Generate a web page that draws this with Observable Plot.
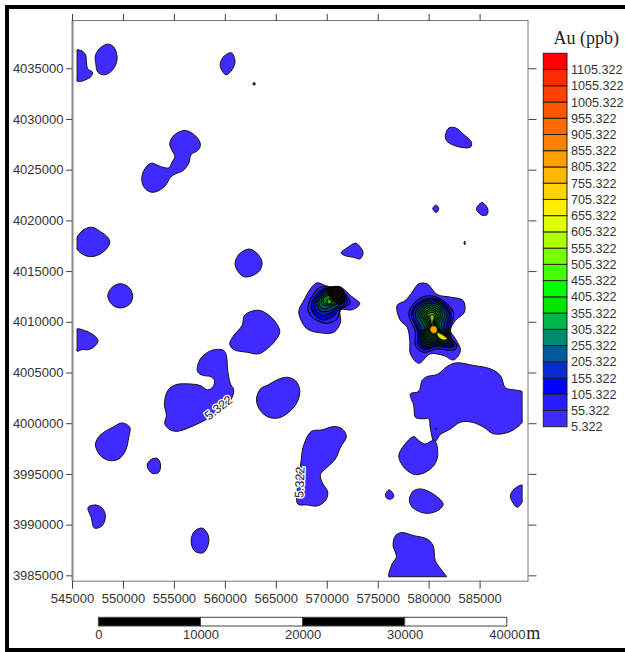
<!DOCTYPE html>
<html>
<head>
<meta charset="utf-8">
<script src="https://cdn.jsdelivr.net/npm/d3@7"></script>
<script src="https://cdn.jsdelivr.net/npm/@observablehq/plot@0.6"></script>
<style>
html,body{margin:0;padding:0;background:#fff;}
#page{position:relative;width:625px;height:652px;overflow:hidden;}
#page svg{position:absolute;overflow:visible;background:transparent;}
#bt{position:absolute;left:5px;top:5px;right:0;height:3.5px;background:#000;}
#bl{position:absolute;left:5px;top:5px;bottom:0;width:3.5px;background:#000;}
#bb{position:absolute;left:5px;right:0;bottom:0;height:4px;background:#000;}
</style>
</head>
<body>
<div id="page"><div id="bt"></div><div id="bl"></div><div id="bb"></div></div>
<script>
// Map coordinates: [easting km, northing km minus 4000]
const xTicks = [545000,550000,555000,560000,565000,570000,575000,580000,585000];
const yTicks = [3985000,3990000,3995000,4000000,4005000,4010000,4015000,4020000,4025000,4030000,4035000];
const levels = [5.322,55.322,105.322,155.322,205.322,255.322,305.322,355.322,405.322,455.322,505.322,555.322,605.322,655.322,705.322,755.322,805.322,855.322,905.322,955.322,1005.322,1055.322,1105.322];
const bandColors = ["#3f2bff","#2a1cff","#0000ff","#0a2bd0","#005a9c","#008a70","#00b84a","#00e800","#00ff00","#44ff00","#78ff00","#b0ff00","#e0ff00","#ffee00","#ffd400","#ffb800","#ffa000","#ff8000","#ff6a00","#ff5500","#ff4000","#ff2a00","#ff0000"];
const ringColors = ["#3f2bff","#2a1cff","#0000d8","#0a20b0","#004a80","#006a58","#007a30","#008a10","#009a00","#20a800","#50b000","#90c000"];
const scaleTicks = [0,10000,20000,30000,40000];
const scaleFills = ["#000","#fff","#000","#fff"];

const blobs = [
[[545.45,36.87],[545.94,36.74],[546.27,36.41],[546.37,35.65],[546.5,34.98],[546.96,34.67],[546.83,34.24],[546.27,33.91],[545.78,33.75],[545.45,33.78],[545.45,34.1],[545.45,35.3],[545.45,36.6]],
[[547.25,36.31],[547.74,37.07],[548.46,37.43],[549.05,37.14],[549.38,36.15],[549.21,35.33],[548.72,34.67],[548.07,34.4],[547.48,34.67],[547.29,35.49]],
[[559.5,35.49],[559.84,36.21],[560.59,36.58],[560.95,35.75],[560.66,34.9],[560.07,34.4],[559.58,35.0]],
[[562.7,33.5],[562.82,33.65],[562.95,33.5],[562.82,33.38]],
[[554.54,27.59],[554.94,28.42],[555.92,28.91],[556.74,28.65],[557.39,27.99],[557.55,27.43],[557.29,26.94],[556.64,26.54],[556.41,25.69],[555.85,24.96],[555.1,24.63],[554.61,24.3],[554.12,23.48],[553.47,22.99],[552.81,22.82],[552.16,23.15],[551.8,23.97],[552,24.96],[552.71,25.69],[553.63,25.36],[554.45,25.23],[554.77,25.8],[555.04,26.34],[554.77,26.94]],
[[545.45,18.38],[546.11,19.14],[546.93,19.37],[547.74,18.94],[548.46,18.38],[548.66,17.89],[548.33,17.23],[547.58,16.67],[546.76,16.47],[545.94,16.74],[545.45,17.23],[545.45,17.5],[545.45,18.1]],
[[560.95,15.82],[561.31,16.67],[562.29,17.23],[563.11,16.8],[563.6,15.92],[563.37,15.09],[562.62,14.6],[561.8,14.5],[561.15,15.16]],
[[548.46,12.62],[548.89,13.45],[549.7,13.81],[550.52,13.45],[550.91,12.62],[550.62,11.8],[549.7,11.41],[548.89,11.74]],
[[545.45,9.35],[546.44,9.09],[547.25,8.6],[547.51,8.2],[547.25,7.71],[546.6,7.31],[545.94,7.31],[545.45,7.15],[545.45,7.5],[545.45,8.3],[545.45,9.1]],
[[560.43,7.87],[560.82,8.7],[561.64,9.68],[561.87,10.67],[562.62,11.1],[563.44,11.16],[564.42,10.57],[565.14,9.68],[565.34,9.03],[564.91,8.2],[564.09,7.38],[563.28,6.89],[562.13,7.05],[560.82,7.31]],
[[557.23,5.41],[557.55,6.39],[558.27,7.05],[559.02,7.31],[559.84,7.22],[560.1,6.72],[560.23,5.24],[560.5,3.93],[560.82,3.33],[560.5,2.28],[559.19,0.96],[558.04,0.37],[556.9,-0.19],[555.26,-0.75],[554.45,-0.52],[554.05,0.04],[554.22,0.8],[554.02,1.95],[554.35,3.27],[555.1,3.83],[556.25,3.93],[557.55,3.76],[558.27,3.33],[558.8,3.66],[558.93,4.25],[558.53,4.65],[557.88,4.75],[557.39,4.98]],
[[563.05,2.35],[563.44,3.43],[564.26,3.86],[565.07,4.32],[566.06,4.58],[566.87,4.25],[567.3,3.33],[567.04,2.12],[566.22,1.13],[565.24,0.57],[564.26,0.64],[563.44,1.29]],
[[547.25,-1.98],[547.74,-1.11],[549.05,-0.29],[549.87,0.08],[550.62,-0.35],[550.52,-1.34],[550.2,-2.66],[549.54,-3.48],[548.72,-3.64],[547.91,-3.31],[547.42,-2.66]],
[[552.32,-4.14],[552.65,-3.58],[553.3,-3.41],[553.63,-3.97],[553.47,-4.79],[552.81,-4.89]],
[[546.53,-8.25],[547.25,-8.02],[547.91,-8.31],[548.23,-9.07],[547.91,-10.06],[547.15,-10.29],[546.83,-9.24]],
[[556.64,-11.54],[556.96,-10.62],[557.72,-10.29],[558.27,-10.88],[558.37,-11.7],[558.04,-12.53],[557.72,-12.76],[556.96,-12.53]],
[[568.42,-0.77],[569.5,-0.61],[570.64,-0.28],[571.46,-0.51],[571.88,-1.27],[571.3,-2.32],[570.8,-3.47],[569.99,-4.3],[569.33,-5.02],[569.5,-5.78],[570.05,-6.76],[569.82,-7.59],[569,-8.11],[568.03,-8.01],[567.11,-7.91],[567.11,-5.94],[567.44,-3.64],[567.63,-2.32]],
[[578.16,2.94],[578.98,3.17],[579.31,4.26],[579.8,4.65],[580.78,4.85],[581.76,5.64],[582.67,6],[584.38,5.74],[586.01,5.41],[586.99,4.75],[587.48,3.54],[588.3,3.34],[589.12,3.17],[589.12,2.9],[589.12,1.63],[589.12,0.4],[589.12,0.15],[587.97,-0.77],[586.34,-1],[585.36,-0.35],[584.21,0.15],[583.07,0.15],[582.09,-0.51],[581.11,-1.07],[580.52,-1.83],[580.12,-0.51],[579.96,0.48],[579.31,0.48],[578.65,0.64],[578.49,1.79]],
[[577.02,-3.14],[577.51,-2.16],[578.49,-1.27],[578.98,-1.66],[579.57,-1.99],[580.52,-1.66],[580.84,-3.14],[580.45,-4.13],[579.63,-4.79],[578.65,-5.02],[577.84,-4.62],[577.25,-3.9]],
[[575.71,-6.99],[576.04,-6.53],[576.3,-6.66],[576.53,-7.19],[576.2,-7.45],[575.81,-7.32]],
[[578.06,-7.42],[578.42,-6.66],[579.14,-6.43],[580.29,-6.86],[581.37,-7.91],[580.94,-8.51],[579.8,-8.84],[578.82,-8.57],[578.23,-8.08]],
[[587.97,-7.09],[588.36,-6.43],[589.12,-6.04],[589.12,-6.3],[589.12,-7.5],[589.12,-7.75],[588.63,-8.24],[588.14,-7.65]],
[[576.04,-15.09],[576.36,-13.84],[576.79,-13.11],[576.46,-12.03],[576.69,-11.04],[577.34,-10.74],[578.49,-11.04],[579.8,-11.37],[580.39,-12.03],[580.61,-13.51],[581.27,-14.49],[581.69,-15.09],[581.4,-15.09],[578.8,-15.09],[576.3,-15.09]],
[[581.59,28.42],[581.92,29.15],[582.58,29.18],[583.39,28.52],[584.15,27.76],[584.05,27.27],[583.07,27.27],[582.09,27.6],[581.69,27.93]],
[[580.35,21.22],[580.68,21.55],[580.94,21.25],[580.71,20.82]],
[[584.64,21.18],[585.19,21.81],[585.75,21.18],[585.68,20.62],[585.19,20.56]],
[[583.42,17.83],[583.49,18.0],[583.56,17.83],[583.49,17.65]],
[[571.36,16.84],[571.95,17.34],[572.77,17.8],[573.26,17.4],[573.52,16.84],[573.19,16.25],[572.6,16.41],[571.95,16.51]],
[[567.21,11.16],[567.7,12.15],[568.35,13.3],[569,13.89],[569.82,13.63],[570.48,13.47],[571.3,13.47],[572.28,12.64],[573.19,11.82],[572.44,11.23],[571.3,11.23],[571.3,10.01],[570.64,9.02],[569.33,8.96],[568.03,9.35],[567.37,10.34]],
[[576.85,11.66],[577.67,12.15],[578.33,12.97],[578.98,13.79],[579.8,13.79],[580.78,12.74],[582.09,12.48],[583.33,12.15],[583.46,10.99],[582.58,10.18],[582.09,9.19],[582.58,8.37],[583.07,7.21],[582.41,6.29],[581.43,6.72],[580.12,6.89],[578.98,5.96],[578.16,6.89],[578.1,8.2],[577.84,9.52],[577.18,10.18]],
[[580.62,-0.5],[580.68,-0.44],[580.74,-0.54],[580.68,-0.62]]
];

// Inner contours of the western anomaly, [band index, outline]
const ringsWest = [
[1,[[568.09,11.49],[568.68,12.81],[569.33,13.47],[569.99,13.47],[571.3,13.14],[572.11,12.31],[572.21,11.82],[571.3,11.23],[570.97,10.34],[569.99,9.91],[569.01,10.18],[568.35,10.67]]],
[2,[[568.42,11.66],[568.94,12.74],[569.66,13.3],[570.97,13.14],[571.88,12.31],[571.95,11.82],[571.13,11.23],[570.64,10.67],[569.66,10.24],[568.84,10.67]]],
[3,[[568.68,11.66],[569.17,12.64],[569.82,13.2],[570.97,12.97],[571.62,12.21],[571.62,11.72],[570.8,11.23],[570.31,10.9],[569.5,10.67],[569.01,11.0]]],
[4,[[568.94,11.82],[569.33,12.64],[569.92,13.14],[570.97,12.87],[571.36,12.21],[571.3,11.75],[570.58,11.33],[570.05,11.1],[569.4,11.1]]],
[5,[[569.17,11.98],[569.5,12.64],[569.99,12.97],[570.8,12.81],[571.13,12.21],[570.97,11.82],[570.31,11.56],[569.82,11.33],[569.4,11.43]]],
[6,[[569.4,12.08],[569.66,12.64],[570.05,12.87],[570.64,12.74],[570.9,12.21],[570.64,11.82],[570.15,11.72],[569.66,11.66]]],
[7,[[569.59,12.15],[569.82,12.54],[570.25,12.64],[570.58,12.31],[570.38,11.89],[569.82,11.82]]],
[10,[[569.99,12.15],[570.25,12.31],[570.41,11.92],[570.09,11.82]]]
];
const westCore = [[569.92,13.3],[570.64,13.53],[571.3,13.47],[571.79,12.64],[571.69,12.15],[571.23,11.66],[570.64,12.08],[570.15,12.64]];
const westCenter = [[570.48,13.07],[571.13,13.14],[571.46,12.54],[570.97,12.21],[570.48,12.64]];

// Inner contours of the eastern anomaly, [band index, outline]
const ringsEast = [
[1,[[578.0,10.83],[578.49,11.82],[579.47,12.54],[580.78,12.48],[581.92,11.66],[582.41,10.83],[582.09,9.52],[582.09,8.53],[582.74,7.71],[582.41,7.28],[580.78,7.38],[579.47,7.05],[578.65,7.71],[578.65,9.02]]],
[2,[[578.23,10.83],[578.65,11.66],[579.63,12.31],[580.78,12.31],[581.76,11.56],[582.18,10.77],[581.92,9.52],[581.92,8.53],[582.48,7.71],[582.09,7.48],[580.78,7.61],[579.54,7.28],[578.88,7.87],[578.88,9.02]]],
[3,[[578.42,10.83],[578.82,11.56],[579.73,12.15],[580.71,12.15],[581.6,11.49],[581.99,10.77],[581.69,9.52],[581.69,8.69],[582.25,7.87],[581.82,7.68],[580.78,7.81],[579.63,7.54],[579.08,8.14],[579.08,9.02]]],
[4,[[578.65,10.83],[579.08,11.49],[579.8,11.98],[580.71,11.98],[581.43,11.39],[581.76,10.77],[581.43,9.68],[581.5,8.86],[582.02,8.14],[581.6,7.87],[580.78,8.04],[579.8,7.81],[579.31,8.37],[579.31,9.19]]],
[5,[[578.88,10.83],[579.24,11.39],[579.86,11.82],[580.65,11.82],[581.27,11.29],[581.53,10.73],[581.2,9.85],[581.27,9.02],[581.76,8.37],[581.37,8.1],[580.71,8.27],[579.96,8.07],[579.47,8.6],[579.54,9.52]]],
[6,[[579.08,10.83],[579.4,11.29],[579.93,11.66],[580.58,11.66],[581.11,11.23],[581.3,10.7],[580.97,9.91],[581.04,9.19],[581.5,8.6],[581.11,8.33],[580.58,8.53],[580.06,8.33],[579.63,8.86],[579.73,9.68]]],
[7,[[579.27,10.83],[579.57,11.23],[579.99,11.49],[580.52,11.49],[580.94,11.16],[581.11,10.67],[580.78,10.01],[580.84,9.35],[581.3,8.79],[580.91,8.53],[580.45,8.79],[580.12,8.6],[579.86,9.12],[579.86,9.85]]],
[8,[[579.47,10.83],[579.73,11.1],[580.06,11.33],[580.45,11.33],[580.78,11.06],[580.94,10.64],[580.65,10.11],[580.71,9.52],[581.11,8.99],[580.78,8.76],[580.39,9.02],[580.12,8.93],[579.99,9.35],[579.96,10.01]]],
[9,[[579.67,10.77],[579.86,11],[580.12,11.16],[580.45,11.16],[580.65,10.96],[580.78,10.57],[580.52,10.18],[580.61,9.68],[580.94,9.19],[580.65,8.99],[580.35,9.25],[580.19,9.19],[580.09,9.68],[580.03,10.18]]],
[10,[[579.86,10.67],[580.12,10.96],[580.45,10.96],[580.61,10.57],[580.39,10.18],[580.52,9.68],[580.78,9.25],[580.55,9.19],[580.29,9.45],[580.19,9.58],[580.16,10.18]]],
[11,[[580.06,10.57],[580.32,10.77],[580.52,10.5],[580.35,10.01],[580.52,9.58],[580.25,9.68],[580.16,10.18]]]
];
const eastShade = [[578.98,9.35],[579.8,9.35],[580.12,9.85],[580.78,9.85],[581.11,9.35],[581.76,9.35],[582.41,7.71],[580.78,7.61],[579.54,7.28],[578.98,8.04]];
const eastHot = [[580.12,9.45],[580.45,9.65],[580.75,9.45],[580.71,9.02],[580.39,8.93],[580.16,9.12]];
const eastWarm = [[580.78,8.93],[581.11,8.86],[581.76,8.37],[581.43,8.27],[580.94,8.53]];

const contourLabels = [
  {E:559350, N:4001560, text:"5.322", rotate:-38},
  {E:567310, N:3994220, text:"5.322", rotate:-88}
];

const toRows = pts => pts.map(([e,n]) => ({E:e*1000, N:(4000+n)*1000}));
const outline = (pts, fill, strokeWidth = 1, stroke = "#111", fillOpacity = 1) =>
  Plot.line(toRows(pts), {x:"E", y:"N", fill, fillOpacity, stroke, strokeWidth, curve:"catmull-rom-closed", strokeLinejoin:"round"});

const axisStyle = {fontSize:13, fontFamily:"'Liberation Sans',Arial,sans-serif", color:"#333", stroke:"#444", label:null};

const map = Plot.plot({
  width:625, height:652,
  marginLeft:72, marginRight:97.5, marginTop:20, marginBottom:71.3,
  style:{background:"transparent", color:"#333", fontFamily:"'Liberation Sans',Arial,sans-serif", fontSize:"13px"},
  x:{domain:[545000,589700]},
  y:{domain:[3984470,4039760]},
  marks:[
    ...blobs.map(b => outline(b, bandColors[0])),
    ...ringsWest.map(([i,p]) => outline(p, ringColors[i], 1.1, "#050505")),
    outline(westCore, "#0a0604", 0.9, "#000"),
    outline(westCenter, "#140500", 0.8, "#000"),
    ...ringsEast.map(([i,p]) => outline(p, ringColors[i], 1.1, "#050505")),
    outline(eastShade, "#020a04", 0, "none", 0.6),
    outline(eastHot, "#ffa500", 0.5, "#3a2a00"),
    outline(eastWarm, "#e8e000", 0.5, "#3a2a00"),
    Plot.text(contourLabels, {x:"E", y:"N", text:"text", rotate:"rotate", fontSize:12.5, fill:"#222", stroke:"#fff", strokeWidth:2.6, fontFamily:"'Liberation Sans',Arial,sans-serif"}),
    Plot.frame({stroke:"#777"}),
    Plot.ruleX([545000], {stroke:"#888", strokeWidth:2}),
    Plot.axisX(xTicks, {...axisStyle, anchor:"bottom", tickSize:8, tickPadding:5, tickFormat:d => String(d)}),
    Plot.axisX(xTicks, {...axisStyle, anchor:"top", tickSize:7, tickFormat:() => ""}),
    Plot.axisY(yTicks, {...axisStyle, anchor:"left", tickSize:6, tickPadding:3, tickFormat:d => String(d)}),
    Plot.axisY(yTicks, {...axisStyle, anchor:"right", tickSize:8, tickFormat:() => ""})
  ]
});
map.style.left = "0"; map.style.top = "0";

const legendRows = levels.map((v,i) => ({from:v, to:v+50, fill:bandColors[i]}));
const legend = Plot.plot({
  width:95, height:420,
  marginLeft:13.3, marginRight:58, marginTop:33.3, marginBottom:13.3,
  style:{background:"transparent", overflow:"visible"},
  x:{domain:[0,1], axis:null},
  y:{domain:[levels[0], levels[levels.length-1]+50], axis:null},
  marks:[
    Plot.rect(legendRows, {x1:0, x2:1, y1:"from", y2:"to", fill:"fill", stroke:"#222", strokeWidth:1, inset:0}),
    Plot.text(levels, {x:1, y:d => d, text:d => d.toFixed(3), textAnchor:"start", dx:3.5, fontSize:12.6, fill:"#333", fontFamily:"'Liberation Sans',Arial,sans-serif"}),
    Plot.text(["Au (ppb)"], {frameAnchor:"top-left", dx:9.7, dy:-15.3, lineAnchor:"middle", textAnchor:"start", fontSize:18, fill:"#222", fontFamily:"'Liberation Serif','Times New Roman',serif"})
  ]
});
legend.style.left = "530px"; legend.style.top = "20px";

const segs = scaleFills.map((f,i) => ({from:scaleTicks[i], to:scaleTicks[i+1], fill:f}));
const bar = Plot.plot({
  width:480, height:40,
  marginLeft:18.4, marginRight:53.2, marginTop:12.3, marginBottom:19,
  style:{background:"transparent", overflow:"visible"},
  x:{domain:[0,40000], axis:null},
  marks:[
    Plot.rect(segs, {x1:"from", x2:"to", fill:"fill", stroke:"#444", strokeWidth:1, inset:0}),
    Plot.text(scaleTicks, {x:d => d, text:d => String(d), frameAnchor:"bottom", dy:8, lineAnchor:"middle", fontSize:13, fill:"#333", fontFamily:"'Liberation Sans',Arial,sans-serif"}),
    Plot.text(["m"], {x:() => 40000, frameAnchor:"bottom", dx:26, dy:7, lineAnchor:"middle", fontSize:18, fill:"#222", fontFamily:"'Liberation Serif','Times New Roman',serif"})
  ]
});
bar.style.left = "80px"; bar.style.top = "605px";

const page = document.getElementById("page");
page.append(map, legend, bar);
</script>
</body>
</html>
